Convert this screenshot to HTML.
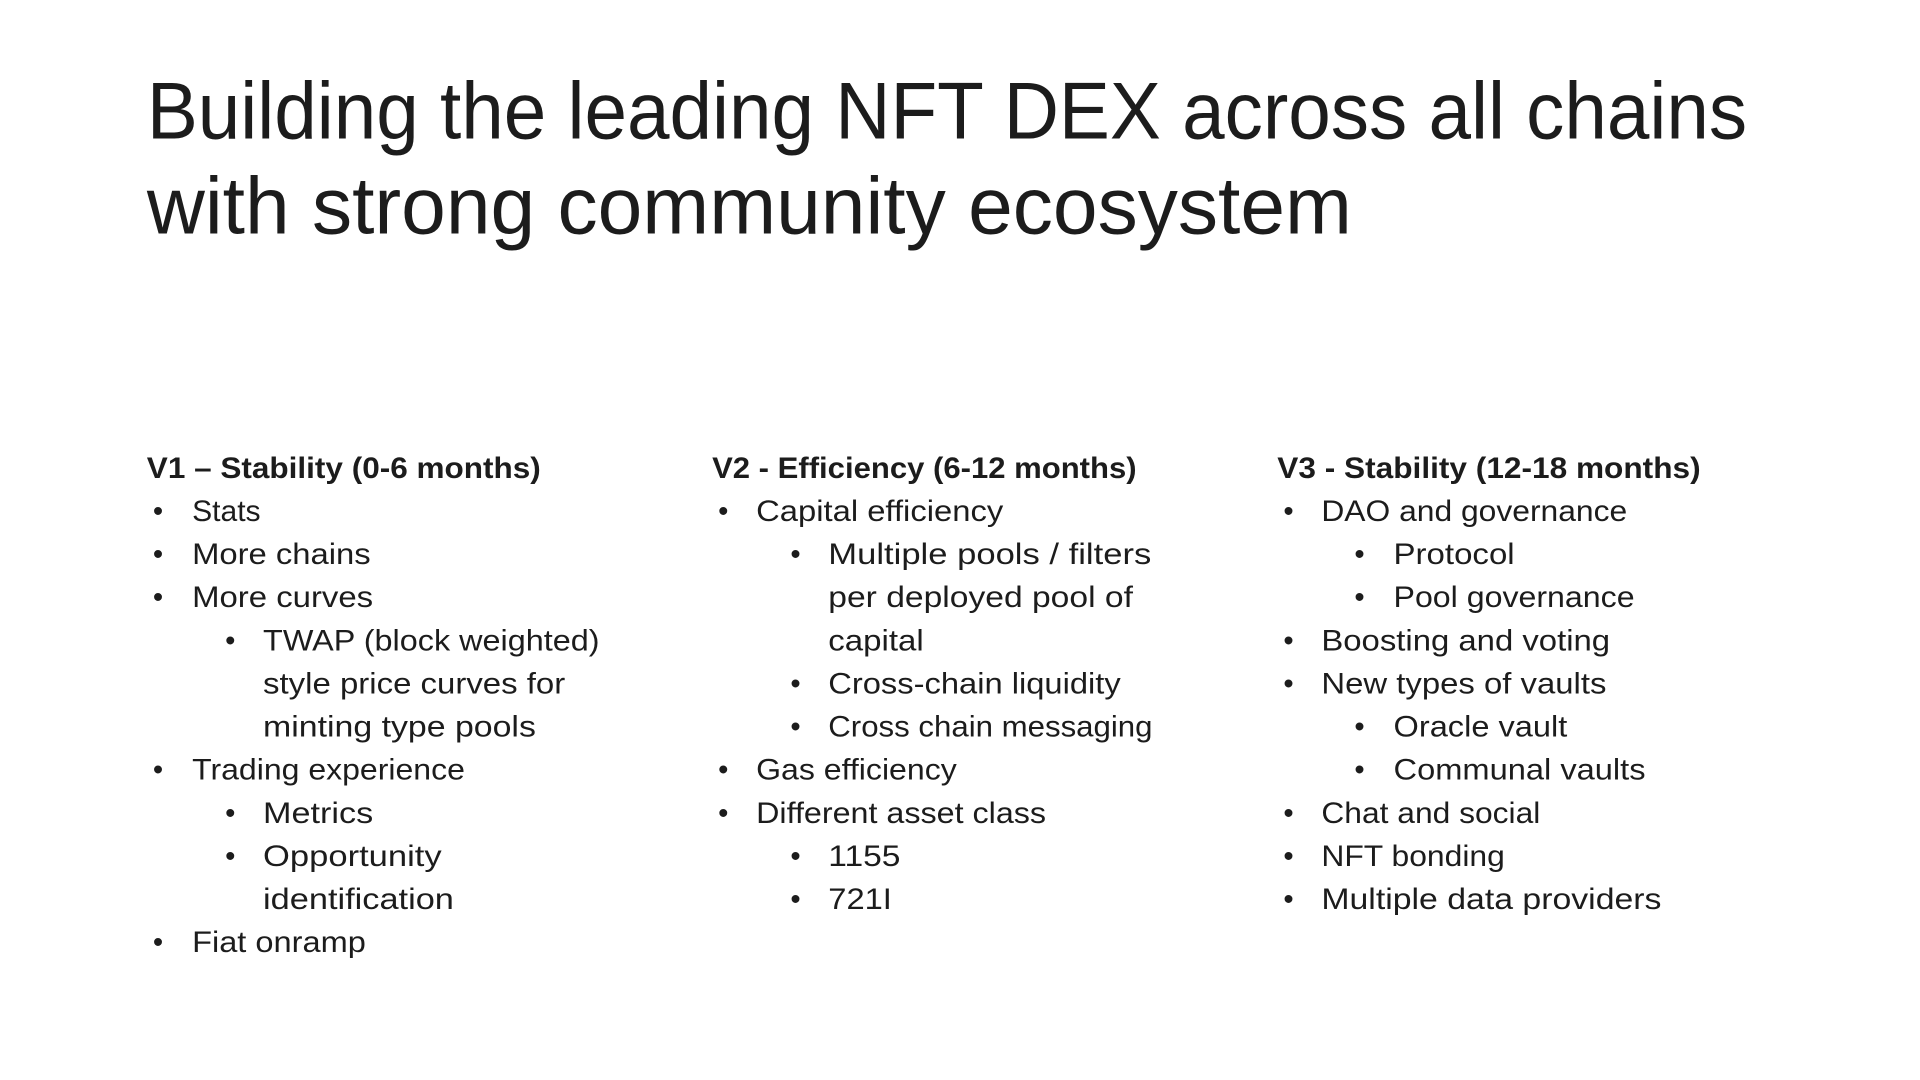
<!DOCTYPE html>
<html><head><meta charset="utf-8"><style>
html,body{margin:0;padding:0;background:#fff;width:1920px;height:1080px;overflow:hidden}
svg{display:block}
text{font-family:"Liberation Sans",sans-serif;fill:#1c1c1c}
</style></head><body>
<svg width="1920" height="1080" viewBox="0 0 1569.3 882.7">
<g font-size="66">
<text x="120" y="113" textLength="1308" lengthAdjust="spacingAndGlyphs" style="font-weight:300">Building the leading NFT DEX across all chains</text>
<text x="120" y="191" textLength="985" lengthAdjust="spacingAndGlyphs" style="font-weight:300">with strong community ecosystem</text>
</g>
<g id="cols" font-size="24"></g>
</svg>
<script>
const cols=[
 {x:[120,125,157,184,215],items:[
  ['h','V1 – Stability (0-6 months)',442],
  [1,'Stats',213],[1,'More chains',303],[1,'More curves',305],
  [2,'TWAP (block weighted)',490],[3,'style price curves for',462],[3,'minting type pools',438],
  [1,'Trading experience',380],[2,'Metrics',305],[2,'Opportunity',361],[3,'identification',371],
  [1,'Fiat onramp',299]]},
 {x:[582,587,618,646,677],items:[
  ['h','V2 - Efficiency (6-12 months)',929],
  [1,'Capital efficiency',820],[2,'Multiple pools / filters',941],[3,'per deployed pool of',926],[3,'capital',755],
  [2,'Cross-chain liquidity',916],[2,'Cross chain messaging',942],
  [1,'Gas efficiency',782],[1,'Different asset class',855],[2,'1155',736],[2,'721I',729]]},
 {x:[1044,1049,1080,1107,1139],items:[
  ['h','V3 - Stability (12-18 months)',1390],
  [1,'DAO and governance',1330],[2,'Protocol',1238],[2,'Pool governance',1336],
  [1,'Boosting and voting',1316],[1,'New types of vaults',1313],[2,'Oracle vault',1281],[2,'Communal vaults',1345],
  [1,'Chat and social',1259],[1,'NFT bonding',1230],[1,'Multiple data providers',1358]]}
];
const g=document.getElementById('cols');
const NS='http://www.w3.org/2000/svg';
cols.forEach((c,ci)=>{
 const cg=document.createElementNS(NS,'g');
 
 
 g.appendChild(cg);
 c.items.forEach((it,i)=>{
  const y=390.5+i*35.25;
  let tx;
  if(it[0]==='h'){tx=c.x[0];}
  else{
   const bx=it[0]===1?c.x[1]:c.x[3];
   tx=it[0]===1?c.x[2]:c.x[4];
   if(it[0]!==3){
    const b=document.createElementNS(NS,'text');
    b.setAttribute('x',bx);b.setAttribute('y',y);b.textContent='•';
    
    
    cg.appendChild(b);
   }
  }
  const t=document.createElementNS(NS,'text');
  t.setAttribute('x',tx);t.setAttribute('y',y);
  t.setAttribute('textLength',it[2]-tx);
  t.setAttribute('lengthAdjust','spacingAndGlyphs');
  if(it[0]==='h')t.setAttribute('font-weight','bold');
  t.textContent=it[1];
  
  
  cg.appendChild(t);
 });
});
</script>
</body></html>
